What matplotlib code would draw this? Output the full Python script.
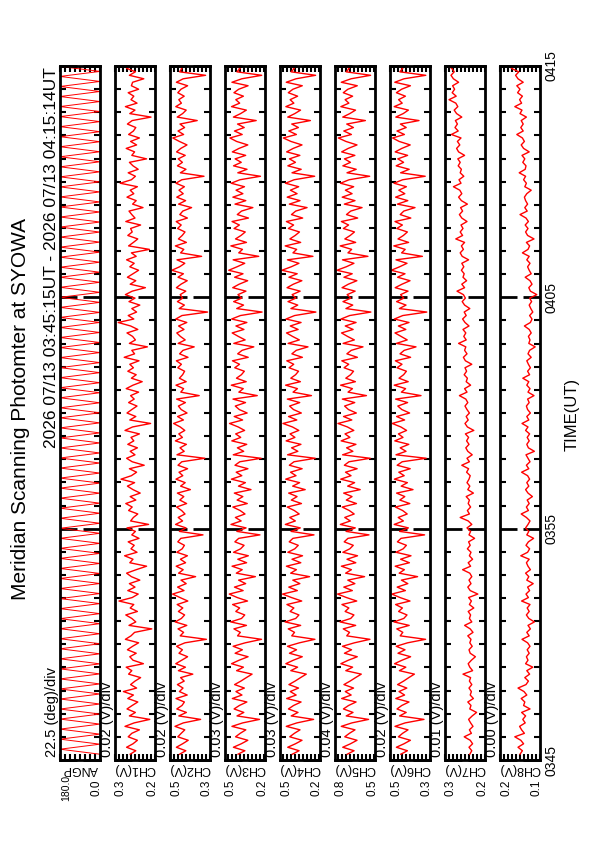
import numpy as np
import matplotlib
matplotlib.use("Agg")
import matplotlib.pyplot as plt
from matplotlib.ticker import MultipleLocator

plt.rcParams["font.family"] = ["Liberation Sans", "DejaVu Sans"]

# ---- data (time axis in minutes after 03:45 UT) ----
time_ticks = [0, 10, 20, 30]
time_labels = ["0345", "0355", "0405", "0415"]

panel_names = ["ANGP", "CH1(V)", "CH2(V)", "CH3(V)", "CH4(V)",
               "CH5(V)", "CH6(V)", "CH7(V)", "CH8(V)"]
div_labels = ["22.5 (deg)/div", "0.02 (V)/div", "0.02 (V)/div", "0.03 (V)/div",
              "0.03 (V)/div", "0.04 (V)/div", "0.02 (V)/div", "0.01 (V)/div",
              "0.00 (V)/div"]
range_hi = [180.0, 0.3, 0.5, 0.5, 0.5, 0.8, 0.5, 0.3, 0.2]
range_lo = [0.0, 0.2, 0.3, 0.2, 0.2, 0.5, 0.3, 0.2, 0.1]
hi_labels = ["180.0", "0.3", "0.5", "0.5", "0.5", "0.8", "0.5", "0.3", "0.2"]
lo_labels = ["0.0", "0.2", "0.3", "0.2", "0.2", "0.5", "0.3", "0.2", "0.1"]
n_divs = [8, 10, 10, 10, 10, 10, 10, 10, 10]

# scan angle turning points (deg)
angp = [0, 180, 0, 180, 0, 180, 0, 180, 0, 180, 0, 180, 0, 180, 0, 180, 0, 180, 0, 180,
        0, 180, 0, 180, 0, 180, 0, 180, 0, 180, 0, 180, 0, 180, 0, 180, 0, 180, 0, 180,
        0, 180, 0, 180, 0, 180, 0, 180, 0, 180, 0, 180, 0, 180, 0, 180, 0, 180, 0, 180,
        0, 180, 0, 180, 0, 180, 0, 180, 0, 180, 0, 180, 0, 180, 0, 180, 0, 180, 0, 180,
        0, 180, 0, 180, 0, 180, 0, 180, 0, 180, 0, 180, 0, 180, 0, 180, 0, 180, 0, 180,
        0, 180, 0, 180, 0, 180, 0, 180, 0, 180, 0, 180, 0, 180, 0, 180, 0, 180, 0, 180,
        0, 180, 0, 180, 0, 180, 0, 180, 0, 180, 0, 180, 0, 180, 0, 180, 0, 180, 0]

# photometer channels, mV
ch1_mv = [262, 248, 271, 255, 244, 267, 258, 239, 275, 252,
          213, 264, 249, 270, 257, 243, 268, 254, 279, 246,
          261, 250, 236, 266, 258, 272, 229, 255, 263, 247,
          269, 256, 241, 274, 260, 251, 208, 265, 248, 258,
          273, 244, 262, 253, 290, 257, 242, 268, 250, 264,
          238, 259, 271, 247, 221, 263, 255, 276, 245, 260,
          252, 267, 240, 258, 249, 270, 216, 261, 254, 243,
          266, 257, 273, 248, 262, 237, 255, 269, 251, 285,
          259, 246, 264, 227, 257, 271, 250, 262, 244, 268,
          253, 260, 239, 275, 256, 211, 263, 248, 270, 258,
          245, 266, 252, 261, 241, 272, 255, 232, 259, 247,
          268, 254, 263, 240, 277, 251, 258, 219, 264, 249,
          256, 270, 243, 261, 292, 253, 267, 246, 258, 238,
          265, 250, 274, 257, 224, 262, 248, 269, 255, 241,
          263, 252, 271, 247, 259, 214, 266, 254, 243, 268,
          257, 261, 236, 273, 250, 258, 265, 230, 256, 247,
          270, 253, 262, 244, 287, 259, 249, 267, 242, 255,
          264, 221, 258, 251, 272, 246, 261, 239, 266, 254,
          248, 269, 257, 210, 263, 250, 274, 245, 260, 253,
          267, 241, 259, 256, 228, 264, 249, 271, 255, 262]

ch2_mv = [452, 421, 468, 437, 409, 461, 444, 426, 475, 433,
          347, 456, 418, 466, 440, 428, 470, 414, 453, 435,
          463, 429, 447, 386, 458, 423, 471, 441, 412, 455,
          438, 467, 425, 318, 449, 432, 460, 416, 474, 443,
          427, 458, 436, 464, 411, 450, 487, 430, 462, 419,
          445, 372, 457, 434, 469, 422, 448, 413, 466, 439,
          428, 461, 446, 335, 453, 420, 472, 437, 459, 425,
          442, 467, 417, 451, 431, 463, 398, 447, 424, 470,
          436, 455, 412, 460, 441, 326, 465, 429, 450, 418,
          473, 438, 456, 426, 449, 482, 433, 462, 415, 444,
          458, 423, 467, 354, 446, 432, 470, 419, 453, 437,
          427, 461, 443, 468, 410, 452, 435, 379, 459, 424,
          448, 466, 430, 457, 416, 471, 440, 312, 454, 428,
          463, 437, 449, 421, 468, 445, 414, 460, 433, 491,
          452, 426, 465, 342, 447, 431, 473, 418, 458, 439,
          425, 462, 444, 469, 413, 451, 436, 392, 457, 422,
          466, 434, 455, 428, 470, 441, 330, 448, 420, 463,
          438, 459, 424, 467, 446, 415, 453, 486, 432, 460,
          427, 450, 364, 464, 437, 419, 471, 443, 456, 429,
          461, 445, 412, 468, 434, 322, 452, 440, 465, 426]

ch3_mv = [402, 351, 437, 378, 329, 421, 386, 344, 448, 367,
          241, 410, 359, 432, 392, 336, 445, 373, 418, 355,
          428, 381, 340, 297, 413, 362, 451, 394, 327, 424,
          370, 439, 348, 226, 406, 385, 433, 339, 457, 376,
          352, 419, 390, 443, 331, 408, 468, 364, 429, 345,
          398, 272, 415, 371, 447, 338, 404, 325, 436, 383,
          357, 426, 397, 238, 411, 342, 455, 379, 422, 350,
          387, 441, 333, 409, 366, 430, 305, 399, 347, 452,
          374, 416, 328, 425, 389, 229, 438, 360, 407, 337,
          449, 382, 420, 353, 401, 466, 368, 431, 334, 393,
          423, 346, 440, 258, 396, 363, 453, 341, 414, 377,
          355, 427, 391, 444, 326, 405, 372, 284, 434, 349,
          400, 446, 358, 418, 336, 450, 384, 222, 412, 361,
          435, 375, 403, 343, 442, 394, 330, 428, 365, 472,
          410, 352, 439, 247, 397, 369, 456, 339, 421, 380,
          348, 432, 392, 447, 324, 408, 376, 291, 425, 344,
          441, 366, 417, 354, 454, 388, 234, 404, 335, 436,
          378, 424, 345, 445, 395, 329, 413, 463, 371, 429,
          356, 406, 266, 437, 383, 340, 451, 390, 419, 362,
          433, 397, 327, 448, 374, 225, 411, 386, 440, 350]

ch4_mv = [408, 357, 442, 384, 335, 427, 392, 350, 453, 373,
          248, 416, 365, 437, 398, 342, 450, 379, 423, 361,
          433, 387, 346, 303, 419, 368, 456, 400, 333, 429,
          376, 444, 354, 238, 412, 391, 438, 345, 462, 382,
          358, 424, 396, 448, 337, 414, 481, 370, 434, 351,
          404, 278, 420, 377, 452, 344, 410, 331, 441, 389,
          363, 431, 403, 245, 417, 348, 460, 385, 427, 356,
          393, 446, 339, 415, 372, 435, 311, 405, 353, 457,
          380, 421, 334, 430, 395, 236, 443, 366, 413, 343,
          454, 388, 425, 359, 407, 478, 374, 436, 340, 399,
          428, 352, 445, 264, 402, 369, 458, 347, 419, 383,
          361, 432, 397, 449, 332, 411, 378, 290, 439, 355,
          406, 451, 364, 423, 342, 455, 390, 231, 418, 367,
          440, 381, 409, 349, 447, 400, 336, 433, 371, 486,
          416, 358, 444, 253, 403, 375, 461, 345, 426, 386,
          354, 437, 398, 452, 330, 414, 382, 297, 430, 350,
          446, 372, 422, 360, 459, 394, 240, 410, 341, 441,
          384, 429, 351, 450, 401, 335, 418, 475, 377, 434,
          362, 412, 272, 442, 389, 346, 456, 396, 424, 368,
          438, 403, 333, 453, 380, 233, 417, 392, 445, 356]

ch5_mv = [708, 657, 742, 684, 635, 727, 692, 650, 753, 673,
          548, 716, 665, 737, 698, 642, 750, 679, 723, 661,
          733, 687, 646, 603, 719, 668, 756, 700, 633, 729,
          676, 744, 654, 538, 712, 691, 738, 645, 762, 682,
          658, 724, 696, 748, 637, 714, 781, 670, 734, 651,
          704, 578, 720, 677, 752, 644, 710, 631, 741, 689,
          663, 731, 703, 545, 717, 648, 760, 685, 727, 656,
          693, 746, 639, 715, 672, 735, 611, 705, 653, 757,
          680, 721, 634, 730, 695, 536, 743, 666, 713, 643,
          754, 688, 725, 659, 707, 778, 674, 736, 640, 699,
          728, 652, 745, 564, 702, 669, 758, 647, 719, 683,
          661, 732, 697, 749, 632, 711, 678, 590, 739, 655,
          706, 751, 664, 723, 642, 755, 690, 531, 718, 667,
          740, 681, 709, 649, 747, 700, 636, 733, 671, 786,
          716, 658, 744, 553, 703, 675, 761, 645, 726, 686,
          654, 737, 698, 752, 630, 714, 682, 597, 730, 650,
          746, 672, 722, 660, 759, 694, 540, 710, 641, 741,
          684, 729, 651, 750, 701, 635, 718, 775, 677, 734,
          662, 712, 572, 742, 689, 646, 756, 696, 724, 668,
          738, 703, 633, 753, 680, 533, 717, 692, 745, 656]

ch6_mv = [446, 413, 468, 430, 398, 458, 437, 410, 475, 424,
          330, 452, 419, 465, 441, 405, 471, 427, 455, 416,
          462, 432, 406, 378, 453, 421, 477, 440, 397, 460,
          425, 469, 412, 322, 449, 436, 466, 404, 480, 431,
          415, 457, 438, 472, 400, 450, 491, 423, 464, 411,
          443, 362, 454, 428, 474, 403, 447, 395, 470, 434,
          418, 463, 445, 327, 452, 408, 479, 433, 459, 414,
          437, 473, 401, 451, 426, 467, 385, 444, 413, 478,
          429, 456, 399, 464, 439, 319, 470, 420, 449, 406,
          476, 435, 458, 417, 446, 489, 427, 467, 402, 441,
          461, 412, 472, 345, 443, 422, 479, 409, 455, 432,
          418, 465, 440, 473, 397, 450, 429, 370, 468, 414,
          444, 475, 421, 458, 405, 478, 436, 316, 453, 420,
          467, 431, 447, 410, 474, 440, 400, 462, 425, 494,
          452, 415, 470, 338, 442, 424, 481, 407, 460, 433,
          413, 466, 438, 475, 396, 449, 431, 375, 463, 411,
          472, 426, 456, 418, 480, 437, 324, 447, 404, 469,
          432, 461, 412, 474, 441, 399, 454, 487, 428, 465,
          419, 448, 355, 471, 434, 408, 479, 439, 457, 423,
          468, 442, 398, 476, 430, 321, 451, 436, 472, 415]

ch7_mv = [238, 233, 240, 231, 237, 252, 234, 239, 230, 236,
          241, 232, 221, 238, 235, 243, 229, 237, 234, 240,
          233, 239, 236, 255, 231, 238, 242, 234, 224, 237,
          240, 232, 238, 235, 243, 230, 237, 251, 233, 239,
          236, 242, 228, 239, 234, 241, 218, 237, 243, 235,
          240, 233, 238, 256, 236, 242, 231, 239, 235, 244,
          237, 241, 226, 240, 236, 245, 233, 242, 262, 239,
          244, 236, 242, 239, 247, 229, 243, 238, 245, 240,
          237, 246, 241, 258, 239, 245, 232, 243, 248, 240,
          246, 241, 249, 228, 244, 250, 242, 247, 239, 245,
          250, 243, 248, 264, 245, 251, 236, 247, 244, 252,
          246, 250, 233, 249, 254, 245, 251, 248, 266, 247,
          253, 248, 255, 240, 250, 256, 247, 252, 238, 251,
          257, 249, 254, 270, 251, 258, 246, 255, 252, 259,
          253, 258, 241, 257, 262, 254, 259, 251, 273, 256,
          262, 255, 260, 245, 258, 264, 256, 261, 244, 259,
          266, 258, 263, 279, 260, 265, 253, 262, 259, 267,
          262, 268, 251, 266, 271, 263, 269, 260, 284, 267,
          275, 269, 274, 258, 271, 277, 268, 273, 290, 272,
          282, 276, 281, 266, 279, 285, 277, 283, 297, 284]

ch8_mv = [150, 144, 155, 141, 148, 163, 139, 146, 151, 137,
          143, 136, 146, 125, 141, 138, 147, 133, 140, 155,
          135, 129, 138, 126, 133, 118, 136, 130, 134, 127,
          132, 125, 131, 145, 127, 133, 124, 130, 114, 128,
          134, 127, 132, 125, 146, 129, 135, 126, 131, 117,
          133, 128, 136, 124, 130, 134, 127, 148, 131, 126,
          135, 129, 116, 133, 128, 136, 130, 125, 134, 147,
          129, 134, 127, 132, 119, 130, 136, 128, 133, 126,
          131, 146, 128, 134, 125, 130, 135, 114, 129, 133,
          127, 132, 126, 136, 130, 145, 128, 133, 124, 131,
          134, 127, 131, 115, 130, 125, 133, 128, 143, 126,
          131, 124, 129, 133, 122, 130, 126, 112, 128, 125,
          129, 122, 127, 139, 124, 120, 126, 118, 123, 127,
          121, 126, 108, 124, 128, 120, 125, 137, 122, 127,
          131, 125, 133, 127, 144, 130, 126, 134, 115, 131,
          136, 130, 137, 129, 135, 150, 132, 138, 131, 136,
          139, 133, 122, 138, 134, 141, 136, 152, 137, 135,
          143, 138, 145, 127, 141, 147, 139, 144, 158, 142,
          148, 142, 147, 134, 150, 145, 163, 146, 151, 144,
          156, 150, 158, 142, 155, 161, 153, 172, 158, 163]

series = [np.array(angp, float)] + [np.array(c, float) / 1000.0 for c in
          (ch1_mv, ch2_mv, ch3_mv, ch4_mv, ch5_mv, ch6_mv, ch7_mv, ch8_mv)]

# ---- layout, in pixels of the 595x842 page ----
W, H = 595, 842
fig = plt.figure(figsize=(W / 100, H / 100), dpi=100)


def fx(x):
    return x / W


def fy(y):
    return 1 - y / H


top_px, bot_px = 66, 760
panel_w = 40

for i, vals in enumerate(series):
    left = 60 + 55 * i
    ax = fig.add_axes([fx(left), fy(bot_px), panel_w / W, (bot_px - top_px) / H])
    t = np.linspace(0.25, 30.2, len(vals))
    ax.plot(vals, t, color="#ff0000", lw=0.7 if i == 0 else 1.0)
    ax.set_xlim(range_hi[i], range_lo[i])
    ax.set_ylim(0, 30)
    for s in ax.spines.values():
        s.set_linewidth(2)
    ax.set_xticks([])
    ax.xaxis.set_minor_locator(MultipleLocator((range_hi[i] - range_lo[i]) / n_divs[i]))
    ax.tick_params(axis="x", which="minor", direction="in", top=True, bottom=True,
                   length=4, width=1.5)
    ax.set_yticks(time_ticks)
    ax.yaxis.set_minor_locator(MultipleLocator(1))
    ax.tick_params(axis="y", which="major", direction="in", left=True, right=True,
                   length=12, width=2, labelleft=False)
    ax.tick_params(axis="y", which="minor", direction="in", left=True, right=True,
                   length=4, width=1.5)

    fig.text(fx(left - 8), fy(757), div_labels[i], rotation=90,
             ha="center", va="bottom", fontsize=10.5)
    fig.text(fx(left + 20), fy(769), panel_names[i], rotation=180,
             ha="center", va="center", fontsize=9)
    fig.text(fx(left + 6), fy(788), hi_labels[i], rotation=90,
             ha="center", va="center", fontsize=7.5 if i == 0 else 8.5)
    fig.text(fx(left + panel_w - 3), fy(788), lo_labels[i], rotation=90,
             ha="center", va="center", fontsize=8.5)

for tk, lab in zip(time_ticks, time_labels):
    ypx = bot_px - (bot_px - top_px) * tk / 30
    fig.text(fx(551), fy(ypx), lab, rotation=90, ha="center", va="center", fontsize=10)

fig.text(fx(572), fy(414), "TIME(UT)", rotation=90, ha="center", va="center", fontsize=12)
fig.text(fx(21), fy(409), "Meridian Scanning Photomter at SYOWA", rotation=90,
         ha="center", va="center", fontsize=15)
fig.text(fx(52), fy(67), "2026 07/13 03:45:15UT - 2026 07/13 04:15:14UT", rotation=90,
         ha="center", va="top", fontsize=12.5)

fig.savefig("out.png", dpi=100)
